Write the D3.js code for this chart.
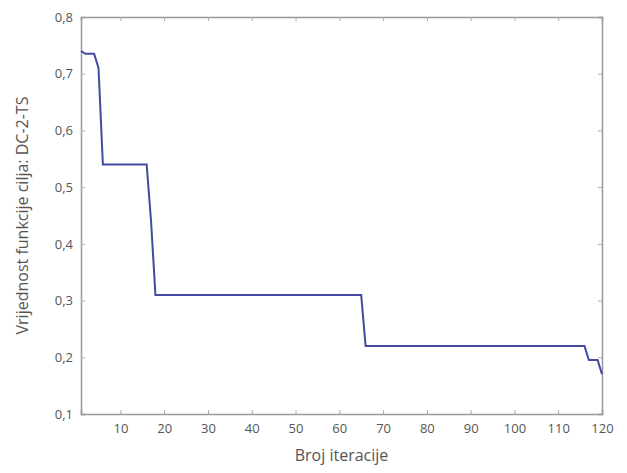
<!DOCTYPE html>
<html>
<head>
<meta charset="utf-8">
<script src="https://cdn.jsdelivr.net/npm/d3@7"></script>
<style>
  body{margin:0;background:#fff;}
  svg text{font-family:"Open Sans","Noto Sans",sans-serif;fill:#555;}
</style>
</head>
<body>
<div id="chart"></div>
<script>
// breakpoints of the objective curve (iteration, value)
var iterations = [1, 2, 4, 5, 6, 16, 17, 18, 65, 66, 116, 117, 119, 120];
var values = [0.74, 0.735, 0.735, 0.71, 0.54, 0.54, 0.44, 0.31, 0.31, 0.22, 0.22, 0.195, 0.195, 0.17];
var xTicks = [10, 20, 30, 40, 50, 60, 70, 80, 90, 100, 110, 120];
var yTicks = [0.1, 0.2, 0.3, 0.4, 0.5, 0.6, 0.7, 0.8];

var width = 627, height = 473;
var margin = {top: 17, right: 25, bottom: 59, left: 81};
var w = width - margin.left - margin.right;
var h = height - margin.top - margin.bottom;

var svg = d3.select("#chart").append("svg")
    .attr("width", width)
    .attr("height", height);
var g = svg.append("g").attr("transform", "translate(" + margin.left + "," + margin.top + ")");

var x = d3.scaleLinear().domain([1, 120]).range([0, w]);
var y = d3.scaleLinear().domain([0.1, 0.8]).range([h, 0]);
var fmt = function(d){ return d3.format(".1f")(d).replace(".", ","); };

// axes with inward ticks
var xAxis = g.append("g").attr("transform", "translate(0," + h + ")")
    .call(d3.axisBottom(x).tickValues(xTicks).tickSize(-4).tickPadding(10));
var xTop = g.append("g")
    .call(d3.axisTop(x).tickValues(xTicks).tickSize(-4).tickFormat(""));
var yAxis = g.append("g")
    .call(d3.axisLeft(y).tickValues(yTicks).tickSize(-4).tickPadding(8).tickFormat(fmt));
var yRight = g.append("g").attr("transform", "translate(" + w + ",0)")
    .call(d3.axisRight(y).tickValues(yTicks).tickSize(-4).tickFormat(""));

[xAxis, xTop, yAxis, yRight].forEach(function(a){
    a.select(".domain").attr("stroke", "#999").attr("stroke-width", 1.5);
    a.selectAll(".tick line").attr("stroke", "#aaa");
    a.selectAll(".tick text").style("font-size", "13px").attr("fill", "#555");
});
// hide tick marks that fall on the frame corners
yAxis.selectAll(".tick").filter(function(d){ return d == 0.1 || d == 0.8; }).select("line").remove();
yRight.selectAll(".tick").filter(function(d){ return d == 0.1 || d == 0.8; }).select("line").remove();
xAxis.selectAll(".tick").filter(function(d){ return d == 120; }).select("line").remove();
xTop.selectAll(".tick").filter(function(d){ return d == 120; }).select("line").remove();

var pts = iterations.map(function(d, i){ return [d, values[i]]; });
var line = d3.line().x(function(d){ return x(d[0]); }).y(function(d){ return y(d[1]); });
g.append("path").datum(pts)
    .attr("d", line)
    .attr("fill", "none")
    .attr("stroke", "#434aa3")
    .attr("stroke-width", 2);

svg.append("text")
    .attr("x", margin.left + w / 2)
    .attr("y", 461)
    .attr("text-anchor", "middle")
    .style("font-size", "16px")
    .text("Broj iteracije");

svg.append("text")
    .attr("transform", "translate(28," + (margin.top + h / 2) + ") rotate(-90)")
    .attr("text-anchor", "middle")
    .style("font-size", "16px")
    .text("Vrijednost funkcije cilja: DC-2-TS");
</script>
</body>
</html>
